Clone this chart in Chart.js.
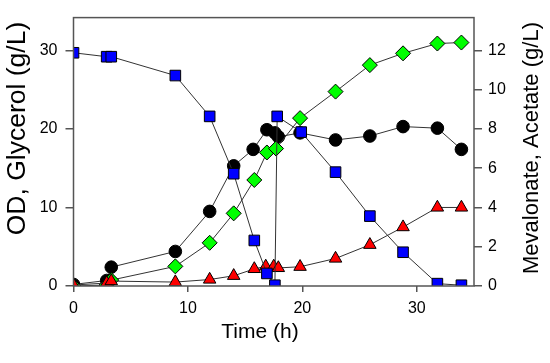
<!DOCTYPE html>
<html>
<head>
<meta charset="utf-8">
<script src="https://cdn.jsdelivr.net/npm/chart.js@4.4.0/dist/chart.umd.min.js"></script>
<style>
  html, body { margin: 0; padding: 0; background: #fff; }
  #wrap { width: 550px; height: 363px; }
</style>
</head>
<body>
<div id="wrap"><canvas id="Chart"></canvas></div>
<script>
// OD (left axis)
const odTime = [0, 2.9, 3.3, 8.9, 11.9, 14.0, 15.7, 16.9, 17.6, 17.9, 19.8, 22.9, 25.9, 28.8, 31.8, 33.9];
const odValues = [0.2, 0.7, 2.4, 4.4, 9.5, 15.3, 17.4, 19.9, 19.5, 19.0, 19.5, 18.6, 19.1, 20.3, 20.1, 17.4];

// Glycerol (left axis)
const glyTime = [0, 2.9, 3.3, 8.9, 11.9, 14.0, 15.8, 16.9, 17.6, 17.8, 19.9, 22.9, 25.9, 28.8, 31.8, 33.9];
const glyValues = [29.7, 29.2, 29.2, 26.8, 21.6, 14.3, 5.8, 1.6, 0.1, 21.6, 19.6, 14.5, 8.9, 4.3, 0.3, 0.1];

// Mevalonate (right axis)
const mevTime = [0, 2.9, 3.3, 8.9, 11.9, 14.0, 15.8, 16.9, 17.7, 19.8, 22.9, 25.9, 28.8, 31.8, 33.9];
const mevValues = [0, 0.05, 0.3, 1.0, 2.2, 3.7, 5.4, 6.8, 7.0, 8.55, 9.9, 11.25, 11.85, 12.35, 12.4];

// Acetate (right axis)
const aceTime = [0, 2.9, 3.3, 8.9, 11.9, 14.0, 15.8, 16.8, 17.5, 17.9, 19.8, 22.9, 25.9, 28.8, 31.8, 33.9];
const aceValues = [0.05, 0.15, 0.25, 0.2, 0.33, 0.52, 0.87, 1.0, 1.0, 0.92, 0.98, 1.4, 2.1, 3.0, 4.0, 4.0];

const xTicks = [0, 10, 20, 30];
const leftTicks = [0, 10, 20, 30];
const rightTicks = [0, 2, 4, 6, 8, 10, 12];

const xTitle = 'Time (h)';
const leftTitle = 'OD, Glycerol (g/L)';
const rightTitle = 'Mevalonate, Acetate (g/L)';

function pairs(xs, ys) {
    return xs.map((x, i) => ({ x: x, y: ys[i] }));
}

const axisColor = '#555';
const fontFamily = 'Arial, "Liberation Sans", sans-serif';

// frame around the plot + axis titles
const framePlugin = {
    id: 'frame',
    afterDraw(chart) {
        const { ctx, chartArea } = chart;
        ctx.save();
        ctx.strokeStyle = axisColor;
        ctx.lineWidth = 1.5;
        ctx.strokeRect(chartArea.left, chartArea.top, chartArea.right - chartArea.left, chartArea.bottom - chartArea.top);

        ctx.fillStyle = '#000';
        ctx.textAlign = 'center';
        ctx.textBaseline = 'middle';
        ctx.font = '21px ' + fontFamily;
        ctx.fillText(xTitle, 260, 332);

        ctx.font = '26.5px ' + fontFamily;
        ctx.translate(18, 128.5);
        ctx.rotate(-Math.PI / 2);
        ctx.fillText(leftTitle, 0, 0);
        ctx.restore();

        ctx.save();
        ctx.fillStyle = '#000';
        ctx.textAlign = 'center';
        ctx.textBaseline = 'middle';
        ctx.font = '22px ' + fontFamily;
        ctx.translate(532, 148);
        ctx.rotate(-Math.PI / 2);
        ctx.fillText(rightTitle, 0, 0);
        ctx.restore();
    }
};

function makeSet(label, data, axis, style, color, radius, order) {
    return {
        label: label,
        data: data,
        yAxisID: axis,
        showLine: true,
        borderColor: '#333',
        borderWidth: 1,
        pointStyle: style,
        pointRadius: radius,
        pointHoverRadius: radius,
        pointBackgroundColor: color,
        pointBorderColor: '#000',
        pointBorderWidth: 1,
        fill: false,
        tension: 0,
        order: order
    };
}

const tickFont = { family: fontFamily, size: 16 };

const config = {
    type: 'scatter',
    data: {
        datasets: [
            makeSet('Glycerol', pairs(glyTime, glyValues), 'y', 'rect', '#0000ff', 7.5, 0),
            makeSet('Acetate', pairs(aceTime, aceValues), 'y2', 'triangle', '#ff0000', 7.2, 1),
            makeSet('Mevalonate', pairs(mevTime, mevValues), 'y2', 'rectRot', '#00ff00', 7.5, 2),
            makeSet('OD', pairs(odTime, odValues), 'y', 'circle', '#000000', 6.3, 3)
        ]
    },
    options: {
        responsive: false,
        animation: false,
        events: [],
        layout: { padding: { top: 5, left: 0, right: 0, bottom: 0 } },
        plugins: {
            legend: { display: false },
            tooltip: { enabled: false }
        },
        scales: {
            x: {
                type: 'linear',
                min: 0,
                max: 35,
                afterFit: s => { s.height = 77; },
                afterBuildTicks: s => { s.ticks = xTicks.map(v => ({ value: v })); },
                ticks: { color: '#000', font: tickFont, padding: 7, maxRotation: 0 },
                grid: { drawOnChartArea: false, tickLength: 6, tickColor: axisColor, lineWidth: 1.5 },
                border: { display: false }
            },
            y: {
                type: 'linear',
                position: 'left',
                min: 0,
                max: 34.18,
                afterFit: s => { s.width = 73.5; },
                afterBuildTicks: s => { s.ticks = leftTicks.map(v => ({ value: v })); },
                ticks: { color: '#000', font: tickFont, padding: 8 },
                grid: { drawOnChartArea: false, tickLength: 8, tickColor: axisColor, lineWidth: 1.5 },
                border: { display: false }
            },
            y2: {
                type: 'linear',
                position: 'right',
                min: 0,
                max: 13.67,
                afterFit: s => { s.width = 76; },
                afterBuildTicks: s => { s.ticks = rightTicks.map(v => ({ value: v })); },
                ticks: { color: '#000', font: tickFont, padding: 6 },
                grid: { drawOnChartArea: false, tickLength: 8, tickColor: axisColor, lineWidth: 1.5 },
                border: { display: false }
            }
        }
    },
    plugins: [framePlugin]
};

const canvas = document.getElementById('Chart');
canvas.width = 550;
canvas.height = 363;
new Chart(canvas, config);
</script>
</body>
</html>
